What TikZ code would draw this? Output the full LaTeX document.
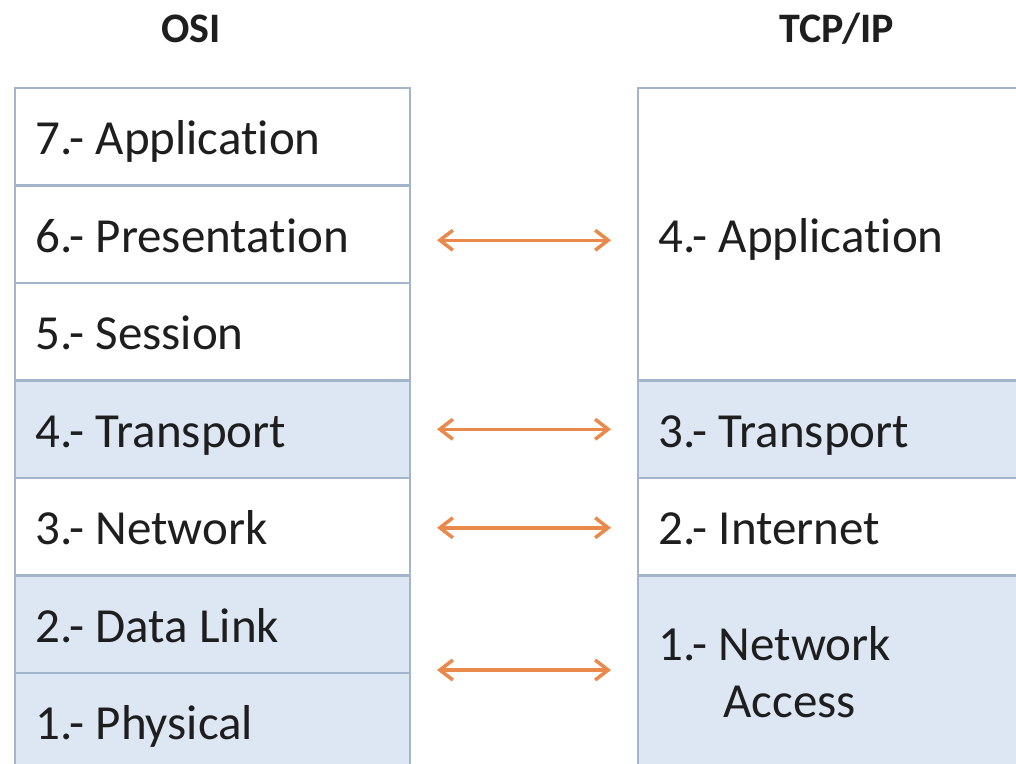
\documentclass[tikz,border=0pt]{standalone}
\usepackage{fontspec}
\setmainfont{Carlito}[Ligatures=NoCommon]
\usetikzlibrary{arrows.meta,calc}
\definecolor{layerblue}{HTML}{DDE7F3}
\definecolor{layerline}{HTML}{A3B5CB}
\definecolor{arrorange}{HTML}{E98A4C}
\definecolor{txt}{HTML}{1E1E1E}
\begin{document}
\begin{tikzpicture}[x=1pt,y=-1pt,
  layer/.style={draw=layerline, line width=2.5pt, minimum width=395pt, minimum height=97.5pt, anchor=north west, inner sep=0pt, outer sep=0pt},
  rlayer/.style={layer, minimum width=420pt},
  shaded/.style={fill=layerblue},
  plain/.style={fill=white},
  lbl/.style={anchor=base west, inner sep=0pt, text=txt, font=\fontsize{49}{57}\selectfont},
  hdr/.style={anchor=base, inner sep=0pt, text=txt, font=\fontsize{42}{48}\selectfont\bfseries},
  link/.style={draw=arrorange, line width=3.5pt, {Straight Barb[length=13pt,width=20pt,line width=3.5pt]}-{Straight Barb[length=13pt,width=20pt,line width=3.5pt]}}
]
\useasboundingbox (0,0) rectangle (1016,763);
\clip (0,0) rectangle (1016,763);
\fill[white] (0,0) rectangle (1016,763);
% headers
\node[hdr] (hosi) at (191,42) {OSI};
\node[hdr] (htcp) at (837,42) {TCP/IP};
% OSI layers
\node[layer,plain]  (l7) at (15,88) {};
\node[layer,plain]  (l6) at (15,185.5) {};
\node[layer,plain]  (l5) at (15,283) {};
\node[layer,shaded] (l4) at (15,380.5) {};
\node[layer,plain]  (l3) at (15,478) {};
\node[layer,shaded] (l2) at (15,575.5) {};
\node[layer,shaded] (l1) at (15,673) {};
% TCP/IP layers
\node[rlayer,plain,minimum height=292.5pt]  (r4) at (638,88) {};
\node[rlayer,shaded] (r3) at (638,380.5) {};
\node[rlayer,plain]  (r2) at (638,478) {};
\node[rlayer,shaded,minimum height=195pt] (r1) at (638,575.5) {};
% labels
\node[lbl] (t7) at ($(l7.west)+(20,18)$) {7.- Application};
\node[lbl] (t6) at ($(l6.west)+(20,18)$) {6.- Presentation};
\node[lbl] (t5) at ($(l5.west)+(20,18)$) {5.- Session};
\node[lbl] (t4) at ($(l4.west)+(20,18)$) {4.- Transport};
\node[lbl] (t3) at ($(l3.west)+(20,18)$) {3.- Network};
\node[lbl] (t2) at ($(l2.west)+(20,18)$) {2.- Data Link};
\node[lbl] (t1) at ($(l1.west)+(20,18)$) {1.- Physical};
\node[lbl] (u4) at ($(r4.west)+(20,18)$) {4.- Application};
\node[lbl] (u3) at ($(r3.west)+(20,18)$) {3.- Transport};
\node[lbl] (u2) at ($(r2.west)+(20,18)$) {2.- Internet};
\node[lbl] (u1a) at (658,660) {1.- Network};
\node[lbl] (u1b) at (723,717) {Access};
% connectors
\draw[link] ($(l6.east)+(27,6)$) -- ($(r4.west |- l6.east)+(-27,6)$);
\draw[link] ($(l4.east)+(27,0)$) -- ($(r3.west)+(-27,0)$);
\draw[link] ($(l3.east)+(27,1)$) -- ($(r2.west)+(-27,1)$);
\draw[link] ($(l2.south east)+(27,-3)$) -- ($(r1.west |- l2.south east)+(-27,-3)$);
\end{tikzpicture}
\end{document}
